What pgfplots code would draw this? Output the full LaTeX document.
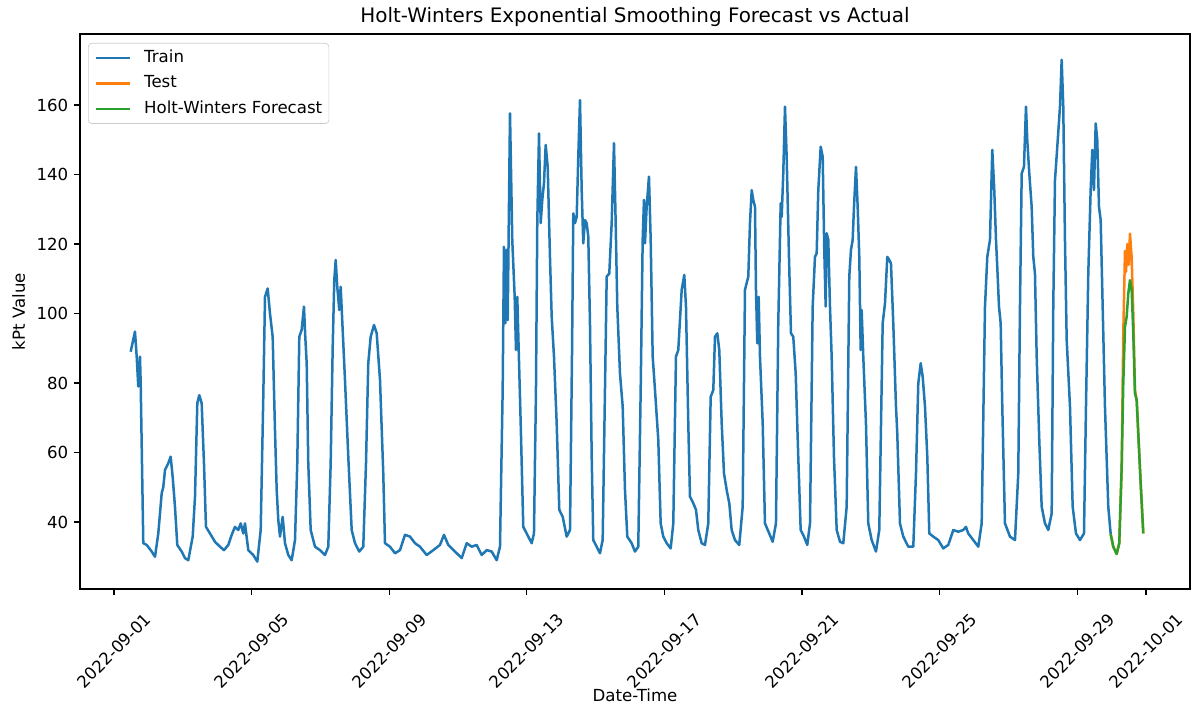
\documentclass[border=0pt]{standalone}
\usepackage{fontspec}
\setmainfont{DejaVu Sans}
\usepackage{pgfplots}
\usepackage{pgfplotstable}
\pgfplotsset{compat=1.18}

\definecolor{C0}{RGB}{31,119,180}
\definecolor{C1}{RGB}{255,127,14}
\definecolor{C2}{RGB}{44,160,44}

% time axis: days since 2022-09-01 00:00, values in kPt
\pgfplotstableread{
day kpt
0.485 89.0
0.610 94.8
0.660 87.6
0.706 79.0
0.756 87.6
0.776 80.0
0.852 33.9
0.951 33.4
1.096 31.5
1.192 30.0
1.288 36.7
1.387 48.3
1.433 50.0
1.483 55.0
1.578 56.9
1.648 58.8
1.706 53.0
1.773 44.4
1.840 33.4
1.968 31.5
2.064 29.6
2.160 29.0
2.288 35.8
2.355 47.3
2.422 74.2
2.480 76.5
2.549 74.2
2.616 56.9
2.674 38.6
2.791 36.7
2.936 34.3
3.081 32.9
3.198 31.9
3.323 33.4
3.422 36.3
3.517 38.6
3.613 37.7
3.683 39.6
3.759 36.7
3.808 39.6
3.904 31.9
4.049 30.5
4.166 28.6
4.265 37.7
4.340 76.0
4.390 104.8
4.468 107.2
4.535 100.0
4.613 93.3
4.680 66.5
4.730 49.2
4.776 40.6
4.826 35.8
4.904 41.5
4.971 33.9
5.067 30.5
5.166 29.0
5.262 34.8
5.328 56.9
5.387 93.3
5.456 95.3
5.523 102.0
5.561 93.3
5.602 85.7
5.648 56.9
5.718 37.7
5.843 32.9
5.988 31.9
6.134 30.5
6.230 32.9
6.299 56.9
6.358 90.4
6.404 109.6
6.445 115.4
6.491 107.7
6.549 101.0
6.590 107.7
6.648 95.3
6.715 80.9
6.811 58.8
6.910 37.7
7.006 33.9
7.131 31.5
7.247 32.9
7.326 56.9
7.392 85.7
7.462 93.3
7.558 96.7
7.637 94.3
7.733 80.9
7.828 54.0
7.878 33.9
8.023 32.9
8.169 31.0
8.314 31.9
8.459 36.3
8.605 35.8
8.750 33.9
8.895 32.9
9.090 30.5
9.282 31.9
9.477 33.4
9.593 36.3
9.718 33.4
9.913 31.5
10.108 29.6
10.253 33.9
10.398 32.9
10.544 33.4
10.689 30.5
10.834 31.9
10.980 31.5
11.125 29.0
11.221 32.9
11.299 78.0
11.337 119.2
11.375 97.2
11.416 118.3
11.445 98.1
11.512 157.6
11.578 121.2
11.648 104.8
11.686 89.5
11.724 104.8
11.765 89.5
11.823 68.4
11.898 38.6
11.997 36.7
12.142 33.9
12.209 36.7
12.267 78.0
12.305 126.0
12.355 151.8
12.404 126.0
12.451 132.7
12.500 137.5
12.549 148.5
12.608 142.2
12.674 116.3
12.724 99.1
12.791 87.6
12.869 68.4
12.945 43.5
13.044 41.5
13.160 35.8
13.256 37.7
13.314 87.6
13.352 128.8
13.401 126.0
13.451 127.8
13.497 145.1
13.547 161.4
13.596 135.5
13.642 120.2
13.692 126.9
13.741 126.0
13.788 122.1
13.837 97.2
13.887 58.8
13.933 34.8
14.032 32.9
14.128 31.0
14.206 34.8
14.273 78.0
14.323 110.6
14.398 111.5
14.468 126.0
14.535 149.0
14.584 126.0
14.631 102.0
14.709 82.8
14.788 73.2
14.855 49.2
14.922 35.8
15.049 33.9
15.145 31.5
15.241 32.9
15.311 78.0
15.369 121.2
15.407 132.7
15.436 120.2
15.485 130.7
15.552 139.4
15.602 121.2
15.660 87.6
15.727 78.0
15.823 63.6
15.892 39.6
15.968 35.8
16.067 33.9
16.183 32.4
16.259 39.6
16.337 87.6
16.404 89.5
16.503 106.8
16.578 111.1
16.628 102.0
16.695 68.4
16.744 47.3
16.840 45.4
16.919 43.5
16.985 37.7
17.084 33.9
17.180 33.4
17.276 39.6
17.346 76.0
17.422 78.0
17.471 93.3
17.538 94.3
17.596 89.5
17.666 68.4
17.733 54.0
17.811 49.2
17.887 45.4
17.956 37.7
18.052 34.8
18.177 33.4
18.276 44.4
18.343 106.8
18.439 110.6
18.488 126.0
18.538 135.5
18.584 132.7
18.634 130.7
18.663 106.8
18.701 91.4
18.741 104.8
18.779 87.6
18.858 68.4
18.924 39.6
19.049 36.7
19.148 34.3
19.244 39.6
19.311 97.2
19.381 131.7
19.410 127.8
19.456 140.3
19.506 159.5
19.555 145.1
19.622 116.3
19.680 94.3
19.747 93.3
19.817 82.8
19.892 58.8
19.962 37.7
20.058 35.8
20.154 33.4
20.233 39.6
20.311 102.0
20.378 116.3
20.427 117.3
20.474 135.5
20.544 148.0
20.602 145.1
20.648 118.3
20.689 102.0
20.718 123.1
20.765 121.2
20.814 102.0
20.863 87.6
20.930 58.8
21.009 37.7
21.105 34.3
21.201 33.9
21.299 44.4
21.375 110.6
21.424 118.3
21.474 121.2
21.512 130.7
21.570 142.2
21.619 130.7
21.666 116.3
21.706 89.5
21.735 101.0
21.782 87.6
21.860 68.4
21.927 39.6
22.026 34.8
22.151 31.5
22.247 37.7
22.346 97.2
22.413 102.9
22.480 116.3
22.538 115.4
22.587 114.4
22.654 97.2
22.733 73.2
22.770 65.5
22.849 39.6
22.945 35.8
23.090 32.9
23.236 32.9
23.314 54.0
23.381 79.9
23.451 85.7
23.509 81.8
23.576 73.2
23.643 58.8
23.701 36.7
23.817 35.8
23.962 34.8
24.108 32.4
24.253 33.4
24.398 37.7
24.544 37.2
24.689 37.7
24.767 38.6
24.834 36.7
24.980 34.8
25.125 32.9
25.224 39.6
25.320 102.0
25.387 116.3
25.465 121.2
25.532 147.1
25.590 135.5
25.640 121.2
25.677 113.4
25.727 102.0
25.776 97.2
25.823 73.2
25.901 39.6
26.047 35.8
26.192 34.8
26.288 54.0
26.337 102.0
26.387 140.3
26.453 142.2
26.512 159.5
26.549 149.9
26.608 140.3
26.677 130.7
26.724 116.3
26.773 111.5
26.823 87.6
26.898 63.6
26.968 44.4
27.064 39.6
27.160 37.7
27.259 42.5
27.305 102.0
27.355 138.4
27.422 148.0
27.500 159.5
27.549 173.0
27.596 159.5
27.645 121.2
27.695 92.4
27.791 73.2
27.869 44.4
27.965 36.7
28.081 34.8
28.198 36.7
28.256 73.2
28.323 111.5
28.392 135.5
28.439 147.1
28.488 135.5
28.538 154.7
28.584 149.9
28.634 130.7
28.683 126.9
28.741 102.0
28.808 73.2
28.904 44.4
28.974 36.5
}\trainTable

\pgfplotstableread{
day kpt
28.974 36.5
29.049 32.9
29.148 30.8
29.224 34.0
29.294 56.0
29.340 94.0
29.390 118.0
29.420 112.0
29.460 120.0
29.500 114.0
29.535 123.0
29.584 116.0
29.631 100.0
29.680 78.0
29.730 75.1
29.776 65.5
29.846 51.1
29.922 36.7
}\testTable

\pgfplotstableread{
day kpt
28.974 36.5
29.049 32.9
29.148 30.8
29.224 33.9
29.294 55.9
29.340 79.9
29.390 96.2
29.439 99.1
29.486 105.8
29.535 109.6
29.584 106.8
29.631 94.3
29.680 77.0
29.730 75.1
29.776 65.5
29.846 51.1
29.922 36.7
}\hwTable

\begin{document}
\begin{tikzpicture}
\begin{axis}[
  scale only axis,
  width=666bp, height=333bp,
  xmin=-0.988, xmax=31.28,
  ymin=20.72, ymax=180.43,
  axis line style={line width=0.8bp, black},
  tick align=outside,
  major tick length=3.5bp,
  every tick/.style={black, line width=0.8bp},
  xtick={0,4,8,12,16,20,24,28,30},
  xticklabels={2022-09-01,2022-09-05,2022-09-09,2022-09-13,2022-09-17,2022-09-21,2022-09-25,2022-09-29,2022-10-01},
  ytick={40,60,80,100,120,140,160},
  xtick pos=bottom, ytick pos=left,
  /pgf/number format/assume math mode=true,
  tick label style={font=\fontsize{10}{12}\selectfont, text=black},
  xticklabel style={yshift=-33.5bp, rotate=45, anchor=center},
  title={Holt-Winters Exponential Smoothing Forecast vs Actual},
  title style={at={(0.5,1)}, anchor=base, yshift=0.8bp, font=\fontsize{12}{14}\selectfont},
  xlabel={Date-Time},
  xlabel style={at={(0.5,0)}, anchor=base, yshift=-67.2bp, font=\fontsize{10}{12}\selectfont},
  ylabel={kPt Value},
  ylabel style={at={(-0.0496,0.5)}, anchor=base, rotate=0, font=\fontsize{10}{12}\selectfont},
  every axis plot/.append style={no markers, line width=1.5bp, line join=round},
  legend cell align=left,
  legend image code/.code={\draw[#1] (0bp,0bp) -- (20bp,0bp);},
  legend style={at={(0,1)}, anchor=north west, xshift=4.8bp, yshift=-5.4bp,
    draw=black!20, rounded corners=2pt, fill=white, fill opacity=0.8, text opacity=1,
    inner xsep=4bp, inner ysep=4bp, column sep=8bp, row sep=5.8bp,
    nodes={inner sep=0pt, text height=7.5bp, text depth=2bp},
    font=\fontsize{10}{12}\selectfont},
]
\addplot[C0] table[x=day, y=kpt] {\trainTable};
\addlegendentry{Train}
\addplot[C1] table[x=day, y=kpt] {\testTable};
\addlegendentry{Test}
\addplot[C2] table[x=day, y=kpt] {\hwTable};
\addlegendentry{Holt-Winters Forecast}
\end{axis}
\pgfresetboundingbox
\path[use as bounding box] ([shift={(-48bp,-70.2bp)}]current axis.south west) rectangle ([shift={(1.8bp,20.4bp)}]current axis.north east);
\end{tikzpicture}
\end{document}
